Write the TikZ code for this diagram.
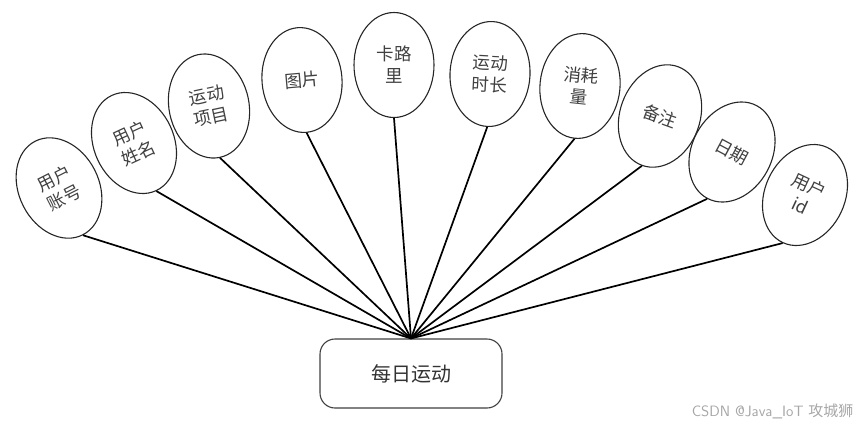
\documentclass[tikz,border=0pt]{standalone}
\usepackage{fontspec}
\newfontfamily\cjk{Noto Sans CJK SC}
\usetikzlibrary{shapes.geometric}
\begin{document}
\begin{tikzpicture}[x=1pt,y=-1pt,
  attr/.style={ellipse,draw=black!85,line width=1.1pt,fill=white,inner sep=0pt,
    minimum width=80pt,minimum height=105pt,align=center,
    font=\cjk\fontsize{17.5}{22}\selectfont,text=black!75},
  link/.style={line width=1.7pt,black},
  entity/.style={draw=black!75,line width=1.1pt,rounded corners=15pt,fill=white,
    minimum width=182pt,minimum height=69pt,inner sep=0pt,
    font=\cjk\fontsize{20}{24}\selectfont,text=black!80}]
\path[use as bounding box] (0,0) rectangle (865,424);
\node[entity] (box) at (411,373.5) {每日运动};
\coordinate (hub) at (box.north);
\node[attr,rotate=27] (a1) at (59,188) {用户\\账号};
\node[attr,rotate=25] (a2) at (134,143) {用户\\姓名};
\node[attr,rotate=12] (a3) at (209,106) {运动\\项目};
\node[attr,rotate=5] (a4) at (302,80) {图片};
\node[attr,rotate=0] (a5) at (394,65) {卡路\\里};
\node[attr,rotate=-3] (a6) at (490,74) {运动\\时长};
\node[attr,rotate=-6] (a7) at (580,86) {消耗\\量};
\node[attr,rotate=-20] (a8) at (660,116) {备注};
\node[attr,rotate=-28] (a9) at (732,152) {日期};
\node[attr,rotate=-25] (a10) at (805,195) {用户\\id};
\foreach \i in {1,...,10} {\draw[link] (a\i.south) -- (hub);}
\node[font=\sffamily\fontsize{15}{18}\selectfont,text=black!35,anchor=east] (wm) at (857,411) {CSDN @Java\_IoT {\cjk 攻城狮}};
\end{tikzpicture}
\end{document}
